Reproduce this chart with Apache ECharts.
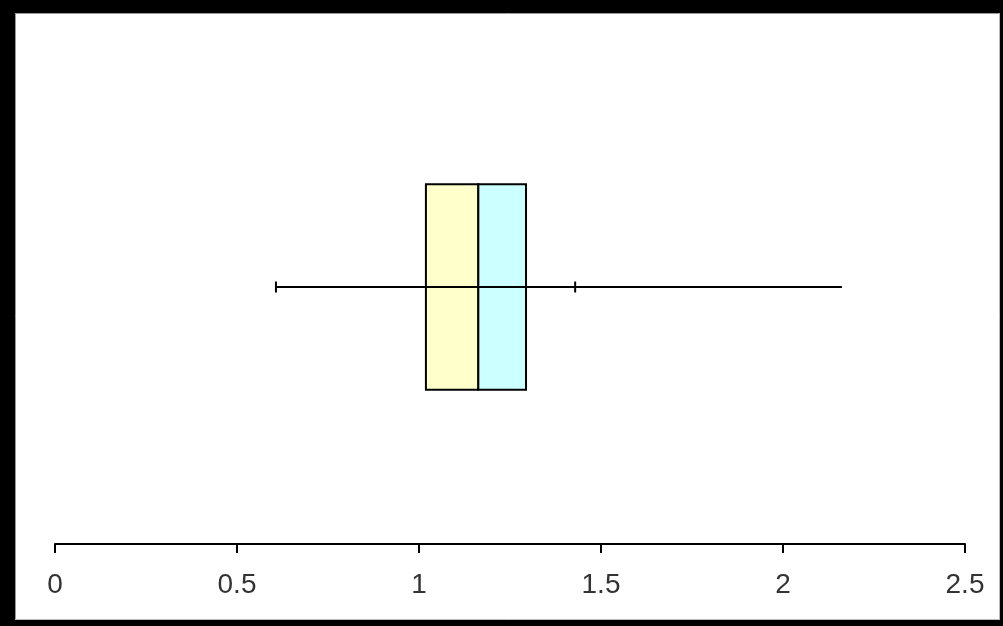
<!DOCTYPE html>
<html>
<head>
<meta charset="utf-8">
<style>
html,body{margin:0;padding:0;background:#fff;}
#chart{width:1003px;height:626px;}
</style>
<script src="https://cdn.jsdelivr.net/npm/echarts@6/dist/echarts.min.js"></script>
</head>
<body>
<div id="chart"></div>
<script>
// Data
var categories = ['sample'];
var lowerWhisker = [0.607];
var q1 = [1.019];
var median = [1.163];
var q3 = [1.294];
var upperWhisker = [1.429];
var maxValue = [2.162];
var tickValues = [0, 0.5, 1, 1.5, 2, 2.5];

var seriesData = categories.map(function (c, i) {
  return [i, lowerWhisker[i], q1[i], median[i], q3[i], upperWhisker[i], maxValue[i]];
});

var chart = echarts.init(document.getElementById('chart'));

function renderItem(params, api) {
  var idx = api.value(0);
  var lw = api.coord([api.value(1), idx]);
  var p1 = api.coord([api.value(2), idx]);
  var pm = api.coord([api.value(3), idx]);
  var p3 = api.coord([api.value(4), idx]);
  var uw = api.coord([api.value(5), idx]);
  var mx = api.coord([api.value(6), idx]);
  var bandH = api.size([0, 1])[1];
  var boxH = bandH * 0.4;
  var y = lw[1];
  var capH = 11;
  var lineStyle = {stroke: '#000', lineWidth: 2};
  return {
    type: 'group',
    children: [
      {type: 'line', shape: {x1: lw[0], y1: y, x2: mx[0], y2: y}, style: lineStyle},
      {type: 'rect', shape: {x: p1[0], y: y - boxH / 2, width: pm[0] - p1[0], height: boxH},
        style: {fill: '#FFFFCC', stroke: '#000', lineWidth: 2}},
      {type: 'rect', shape: {x: pm[0], y: y - boxH / 2, width: p3[0] - pm[0], height: boxH},
        style: {fill: '#CCFFFF', stroke: '#000', lineWidth: 2}},
      {type: 'line', shape: {x1: p1[0], y1: y, x2: p3[0], y2: y}, style: lineStyle},
      {type: 'line', shape: {x1: lw[0], y1: y - capH / 2, x2: lw[0], y2: y + capH / 2}, style: lineStyle},
      {type: 'line', shape: {x1: uw[0], y1: y - capH / 2, x2: uw[0], y2: y + capH / 2}, style: lineStyle}
    ]
  };
}

chart.setOption({
  animation: false,
  backgroundColor: '#fff',
  grid: {left: 55, right: 38, top: 30, bottom: 82},
  xAxis: {
    type: 'value',
    min: 0, max: 2.5, interval: 0.5,
    axisLine: {show: true, lineStyle: {color: '#000', width: 2}},
    axisTick: {show: true, length: 9, lineStyle: {color: '#000', width: 2}},
    splitLine: {show: false},
    axisLabel: {
      margin: 27,
      color: '#333',
      fontSize: 28,
      fontFamily: '"Liberation Sans", Arial, sans-serif',
      formatter: function (v) { return String(v); }
    }
  },
  yAxis: {
    type: 'category',
    data: categories,
    show: false
  },
  graphic: [
    {type: 'rect', shape: {x: 0, y: 0, width: 1003, height: 13}, style: {fill: '#000'}, z: 100},
    {type: 'rect', shape: {x: 0, y: 0, width: 15, height: 626}, style: {fill: '#000'}, z: 100},
    {type: 'rect', shape: {x: 1000, y: 0, width: 3, height: 626}, style: {fill: '#000'}, z: 100},
    {type: 'rect', shape: {x: 0, y: 620, width: 1003, height: 6}, style: {fill: '#000'}, z: 100},
    {type: 'line', shape: {x1: 15.5, y1: 13, x2: 15.5, y2: 620}, style: {stroke: '#999', lineWidth: 1}, z: 100},
    {type: 'line', shape: {x1: 15, y1: 13.5, x2: 1000, y2: 13.5}, style: {stroke: '#999', lineWidth: 1}, z: 100},
    {type: 'line', shape: {x1: 999.5, y1: 13, x2: 999.5, y2: 620}, style: {stroke: '#bbb', lineWidth: 1}, z: 100},
    {type: 'line', shape: {x1: 15, y1: 619.5, x2: 1000, y2: 619.5}, style: {stroke: '#bbb', lineWidth: 1}, z: 100}
  ],
  series: [{
    type: 'custom',
    renderItem: renderItem,
    encode: {x: [1, 2, 3, 4, 5, 6], y: 0},
    data: seriesData
  }]
});
</script>
</body>
</html>
